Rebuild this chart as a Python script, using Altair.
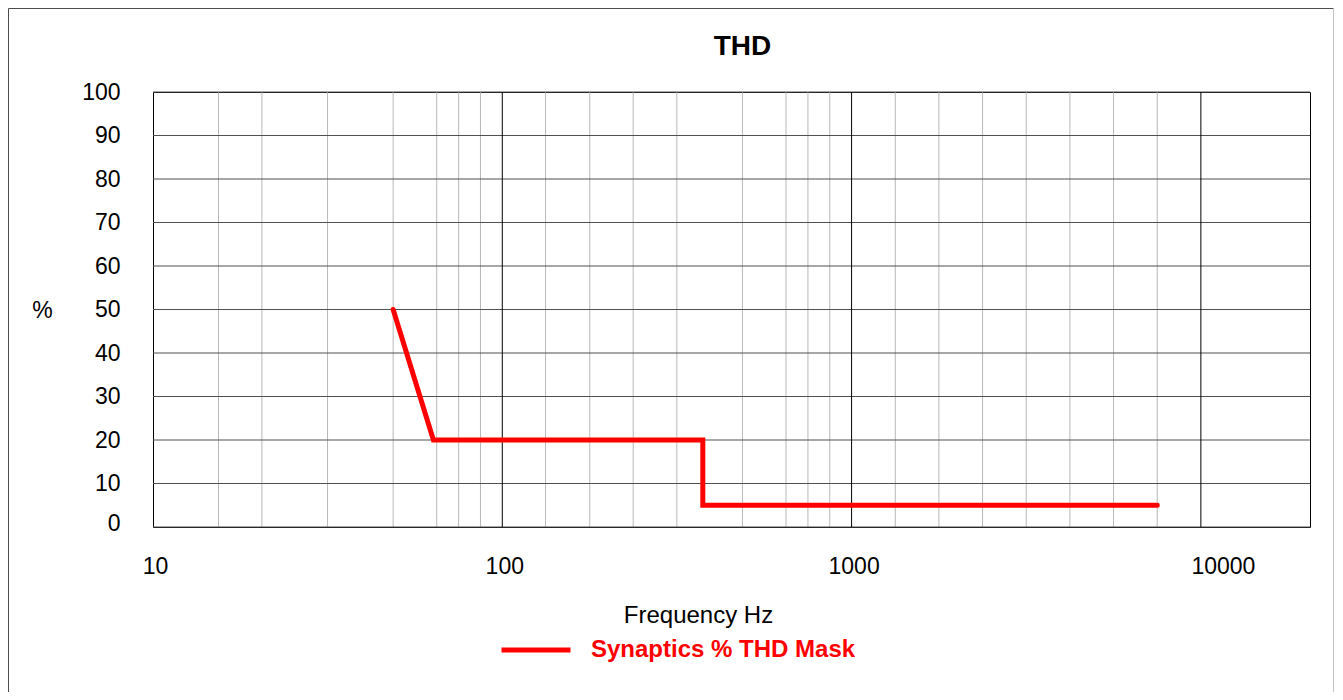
import altair as alt
import pandas as pd

# THD mask series (frequency in Hz, THD in %)
mask_freq = [48.7, 63.5, 375, 375, 7500]
mask_thd = [50, 20, 20, 5, 5]
series_name = "Synaptics % THD Mask"

# axis ticks / gridlines
x_label_values = [10, 100, 1000, 10000]
x_major_grid = [100, 1000, 10000]
x_minor_grid = [15.4, 20.5, 31.6, 48.7, 64.9, 75.0, 86.6,
                133, 178, 237, 316, 487, 649, 750, 866,
                1334, 1778, 2371, 3162, 4217, 5623, 7499]
y_ticks = [0, 10, 20, 30, 40, 50, 60, 70, 80, 90, 100]

FONT = "Liberation Sans"
W, H = 1157, 435

df = pd.DataFrame({"idx": list(range(len(mask_freq))), "freq": mask_freq,
                   "thd": mask_thd, "series": [series_name] * len(mask_freq)})
df_minor = pd.DataFrame({"freq": x_minor_grid})
df_major = pd.DataFrame({"freq": x_major_grid})
df_h = pd.DataFrame({"thd": y_ticks})
df_one = pd.DataFrame({"k": [0]})

xscale = alt.Scale(type="log", domain=[10, 20530], nice=False)
yscale = alt.Scale(domain=[0, 100], nice=False)

xaxis = alt.Axis(values=x_label_values, format="d", grid=False, ticks=False, domain=False,
                 labelFontSize=23, labelPadding=28, labelColor="black", labelFlush=False,
                 labelOverlap=False,
                 labelOffset={"condition": {"test": "datum.value == 10000", "value": 22}, "value": 2},
                 title="Frequency Hz", titleFontSize=24, titleFontWeight="normal",
                 titleColor="black", titleX=545, titleY=95, titleBaseline="alphabetic",
                 titleAlign="center")
yaxis = alt.Axis(values=y_ticks, grid=False, ticks=False, domain=False,
                 labelFontSize=23, labelPadding=33, labelColor="black",
                 labelOffset={"condition": {"test": "datum.value == 0", "value": -4}, "value": 0},
                 title="%", titleAngle=0, titleX=-111, titleY=218, titleAlign="center",
                 titleBaseline="middle", titleFontSize=23, titleFontWeight="normal",
                 titleColor="black")

x_enc = alt.X("freq:Q", scale=xscale, axis=xaxis)
y_enc = alt.Y("thd:Q", scale=yscale, axis=yaxis)

minor = alt.Chart(df_minor).mark_rule(color="#b8b8b8", strokeWidth=1).encode(x=x_enc)
hgrid = alt.Chart(df_h).mark_rule(color="#505050", strokeWidth=1).encode(y=y_enc)
major = alt.Chart(df_major).mark_rule(color="black", strokeWidth=1).encode(x=x_enc)

line = alt.Chart(df).mark_line(strokeWidth=5, strokeCap="round").encode(
    x=x_enc, y=y_enc, order=alt.Order("idx:Q"),
    color=alt.Color("series:N", scale=alt.Scale(range=["#FF0000"]),
                    legend=alt.Legend(title=None, orient="none", legendX=346, legendY=521,
                                      symbolType="stroke", symbolSize=4761,
                                      symbolStrokeWidth=5, labelFontSize=24,
                                      labelFontWeight="bold", labelColor="#FF0000",
                                      labelOffset=18, labelLimit=0, padding=0)))

# chart-area frame (left, top, right edges)
frame_left = alt.Chart(df_one).mark_rule(color="#4d4d4d", strokeWidth=1).encode(
    x=alt.value(-144.5), y=alt.value(-83.5), y2=alt.value(600))
frame_top = alt.Chart(df_one).mark_rule(color="#4d4d4d", strokeWidth=1).encode(
    x=alt.value(-144.5), x2=alt.value(1180.5), y=alt.value(-83.5))
frame_right = alt.Chart(df_one).mark_rule(color="#c4c4c4", strokeWidth=1).encode(
    x=alt.value(1180.5), y=alt.value(-83.5), y2=alt.value(600))

chart = alt.layer(minor, hgrid, major, line, frame_left, frame_top, frame_right).properties(
    width=W, height=H,
    autosize=alt.AutoSizeParams(type="none"),
    padding={"left": 145, "top": 84, "right": 24, "bottom": 165},
    title=alt.TitleParams(text="THD", fontSize=28, fontWeight="bold", anchor="middle",
                          baseline="alphabetic", offset=-75, dx=11, color="black",
                          font=FONT),
).configure(font=FONT).configure_view(stroke="black", strokeWidth=1)

chart.save("out.html", embed_options={"renderer": "svg", "actions": False})
